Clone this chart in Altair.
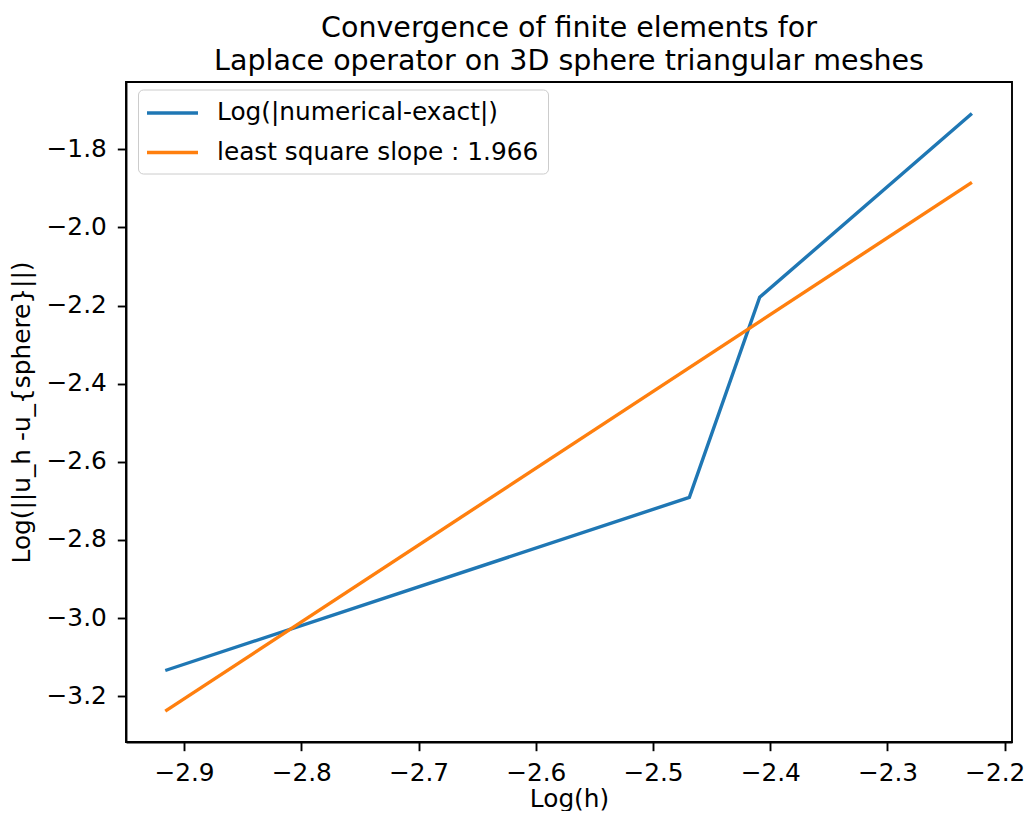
import altair as alt
import pandas as pd

# Data
log_h = [-2.916, -2.469, -2.409, -2.228]
log_err = [-3.134, -2.691, -2.179, -1.7085]
fit_h = [-2.916, -2.228]
fit_err = [-3.238, -1.885]

series_names = ["Log(|numerical-exact|)", "least square slope : 1.966"]
series_colors = ["#1f77b4", "#ff7f0e"]

x_ticks = [-2.9, -2.8, -2.7, -2.6, -2.5, -2.4, -2.3, -2.2]
y_ticks = [-3.2, -3.0, -2.8, -2.6, -2.4, -2.2, -2.0, -1.8]
x_domain = [-2.9495, -2.1938]
y_domain = [-3.317, -1.628]

rows = []
for h, e in zip(log_h, log_err):
    rows.append({"h": h, "e": e, "series": series_names[0]})
for h, e in zip(fit_h, fit_err):
    rows.append({"h": h, "e": e, "series": series_names[1]})
df = pd.DataFrame(rows)

FONT = "DejaVu Sans"
FS = 24.8

chart = (
    alt.Chart(df)
    .mark_line(strokeWidth=3.4)
    .encode(
        x=alt.X(
            "h:Q",
            scale=alt.Scale(domain=x_domain, nice=False, zero=False),
            axis=alt.Axis(
                title="Log(h)",
                values=x_ticks,
                format=".1f",
                labelPadding=10,
                labelOffset={"condition": {"test": "datum.value > -2.25", "value": -10},
                             "value": 0},
                titleX=443,
                titleY=64,
                titleBaseline="alphabetic",
            ),
        ),
        y=alt.Y(
            "e:Q",
            scale=alt.Scale(domain=y_domain, nice=False, zero=False),
            axis=alt.Axis(
                title="Log(||u_h -u_{sphere}||)",
                values=y_ticks,
                format=".1f",
                labelPadding=11,
                titleX=-104,
                titleY=330,
                titleAngle=270,
                titleAlign="center",
                titleBaseline="middle",
            ),
        ),
        color=alt.Color(
            "series:N",
            sort=series_names,
            scale=alt.Scale(domain=series_names, range=series_colors),
            legend=alt.Legend(
                title=None,
                orient="none",
                legendX=12,
                legendY=7.5,
                symbolType="M-2,0H2",
                symbolSize=650,
                symbolStrokeWidth=3.4,
                symbolOffset=11,
                labelOffset=30,
                rowPadding=12.5,
                padding=9,
                labelFontSize=FS,
                labelFont=FONT,
                labelColor="black",
                fillColor="white",
                strokeColor="#cccccc",
                cornerRadius=5,
                labelLimit=700,
            ),
        ),
    )
    .properties(
        width=886,
        height=660,
        autosize=alt.AutoSizeParams(type="none"),
        padding={"left": 118, "top": 74, "right": 14, "bottom": 69},
        title=alt.TitleParams(
            text=["Convergence of finite elements for",
                  "Laplace operator on 3D sphere triangular meshes"],
            fontSize=28.5,
            font=FONT,
            fontWeight="normal",
            color="black",
            anchor="middle",
            frame="group",
            offset=17,
            dy=34,
            lineHeight=33.2,
            baseline="alphabetic",
        ),
    )
    .configure(font=FONT)
    .configure_view(stroke="black", strokeWidth=1.9)
    .configure_axis(
        grid=False,
        domainColor="black",
        domainWidth=1.9,
        tickColor="black",
        tickWidth=1.9,
        tickSize=8.7,
        labelFont=FONT,
        labelFontSize=FS,
        labelColor="black",
        titleFont=FONT,
        titleFontSize=FS,
        titleFontWeight="normal",
        titleColor="black",
    )
)

chart.save("out.html", embed_options={"renderer": "svg", "actions": False})
